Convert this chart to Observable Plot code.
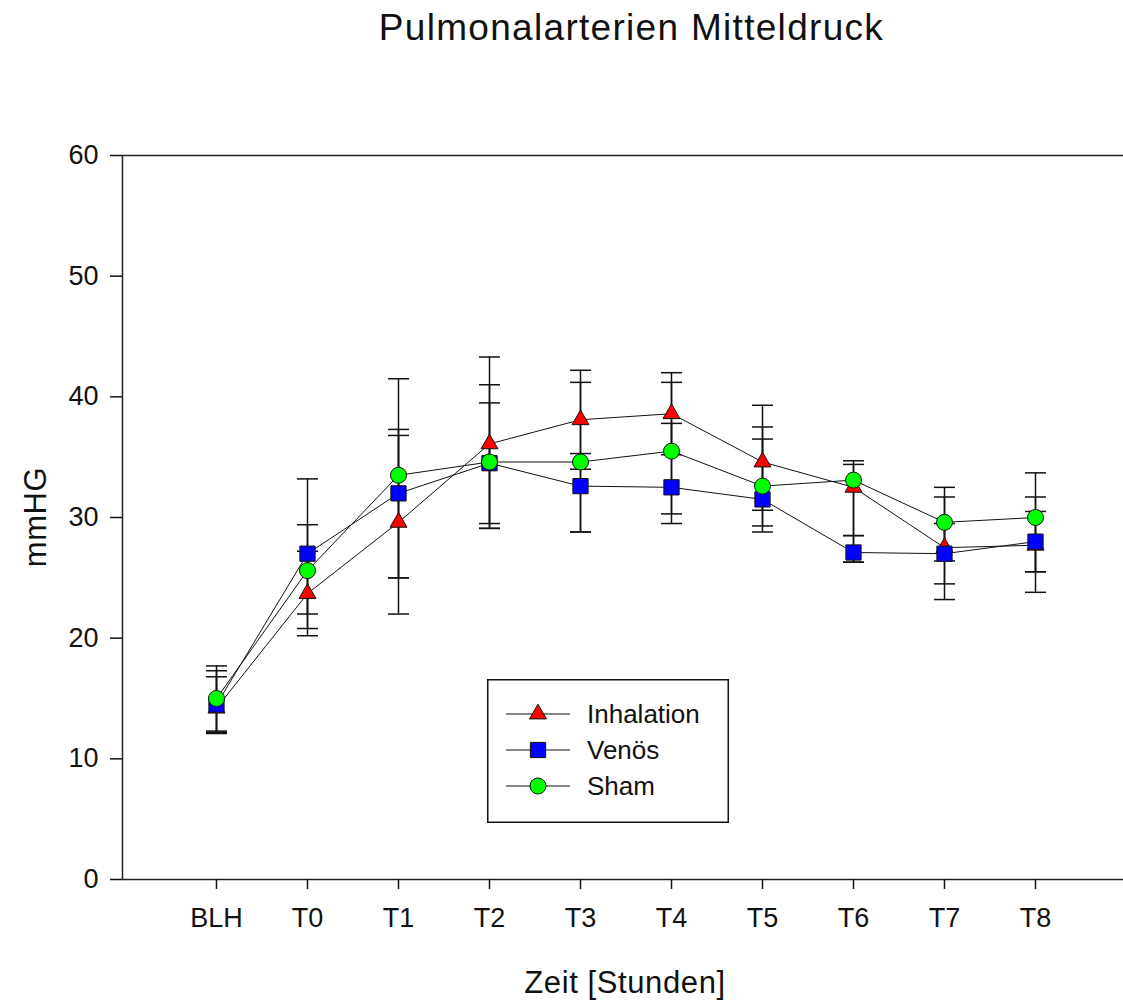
<!DOCTYPE html>
<html>
<head>
<meta charset="utf-8">
<script src="https://cdn.jsdelivr.net/npm/d3@7"></script>
<script src="https://cdn.jsdelivr.net/npm/@observablehq/plot@0.6"></script>
<style>
  html, body { margin: 0; padding: 0; background: #fff; overflow: hidden; }
  #wrap { position: relative; width: 1123px; height: 1001px; font-family: "Liberation Sans", Arial, sans-serif; color: #111; }
  #title { height: 60px; box-sizing: border-box; padding-top: 9px; padding-left: 140px; text-align: center; font-size: 37px; line-height: 37px; letter-spacing: 1.3px; }
  .axlabel { position: absolute; font-size: 31px; line-height: 31px; white-space: nowrap; letter-spacing: 0.6px; }
  #ylab { left: 35px; top: 517px; transform: translate(-50%, -50%) rotate(-90deg); }
  #xlab { left: 625px; top: 982px; transform: translate(-50%, -50%); }
  #legend { position: absolute; left: 487px; top: 679px; }
  #chart svg text { font-size: 27px; }
</style>
</head>
<body>
<div id="wrap">
  <div id="title">Pulmonalarterien Mitteldruck</div>
  <div id="chart"></div>
  <div class="axlabel" id="ylab">mmHG</div>
  <div class="axlabel" id="xlab">Zeit [Stunden]</div>
  <div id="legend"></div>
</div>
<script>
// ---- data ----
const zeitpunkte = ["BLH", "T0", "T1", "T2", "T3", "T4", "T5", "T6", "T7", "T8"];
const serien = ["Inhalation", "Venös", "Sham"];

const inhalationMittel = [14.2, 23.7, 29.6, 36.1, 38.1, 38.6, 34.6, 32.5, 27.5, 27.7];
const inhalationOben   = [16.8, 27.2, 36.8, 43.3, 42.2, 42.0, 39.3, 34.4, 31.7, 31.7];
const inhalationUnten  = [12.1, 20.2, 22.0, 29.1, 34.0, 35.2, 29.3, 26.3, 23.2, 23.8];

const venoesMittel = [14.5, 27.0, 32.0, 34.5, 32.6, 32.5, 31.5, 27.1, 27.0, 28.0];
const venoesOben   = [17.3, 33.2, 37.3, 41.0, 35.3, 37.8, 36.5, 28.5, 29.5, 30.5];
const venoesUnten  = [12.2, 20.8, 25.0, 29.1, 28.8, 30.3, 28.8, 26.3, 24.5, 25.5];

const shamMittel = [15.0, 25.6, 33.5, 34.6, 34.6, 35.5, 32.6, 33.1, 29.6, 30.0];
const shamOben   = [17.7, 29.4, 41.5, 39.5, 41.2, 41.2, 37.5, 34.7, 32.5, 33.7];
const shamUnten  = [12.3, 22.0, 25.0, 29.5, 28.8, 29.5, 30.6, 28.5, 26.4, 25.5];

const yTicks = [0, 10, 20, 30, 40, 50, 60];

// ---- build table ----
const quellen = {
  "Inhalation": [inhalationMittel, inhalationOben, inhalationUnten],
  "Venös": [venoesMittel, venoesOben, venoesUnten],
  "Sham": [shamMittel, shamOben, shamUnten]
};
const rows = [];
for (const s of serien) {
  const [m, hi, lo] = quellen[s];
  zeitpunkte.forEach((z, i) => rows.push({series: s, zeit: z, mean: m[i], hi: hi[i], lo: lo[i]}));
}
const bySeries = s => rows.filter(d => d.series === s);

const stil = {
  "Inhalation": {symbol: "triangle", r: 6.3, fill: "#ff0000"},
  "Venös": {symbol: "square", r: 8.6, fill: "#0000ff"},
  "Sham": {symbol: "circle", r: 8, fill: "#00ff00"}
};

const cap = { draw(ctx) { ctx.moveTo(-10.5, 0); ctx.lineTo(10.5, 0); } };

const chart = Plot.plot({
  width: 1123,
  height: 941,
  marginLeft: 122,
  marginRight: -6,
  marginTop: 95,
  marginBottom: 122,
  x: {type: "point", domain: zeitpunkte, padding: 1},
  y: {domain: [0, 60]},
  style: {fontFamily: "'Liberation Sans', Arial, sans-serif", fontSize: "27px", color: "#111", background: "#fff"},
  marks: [
    Plot.frame({stroke: "#222", strokeWidth: 1.5}),
    Plot.axisY({ticks: yTicks, tickSize: 12, tickPadding: 12, label: null, strokeWidth: 1.5, fontSize: 27}),
    Plot.axisX({tickSize: 10, tickPadding: 18, label: null, strokeWidth: 1.5, fontSize: 27}),
    Plot.line(rows, {x: "zeit", y: "mean", z: "series", stroke: "#111", strokeWidth: 1}),
    Plot.ruleX(rows, {x: "zeit", y1: "lo", y2: "hi", stroke: "#111", strokeWidth: 1.5}),
    Plot.dot(rows, {x: "zeit", y: "hi", symbol: cap, fill: "none", stroke: "#111", strokeWidth: 1.5}),
    Plot.dot(rows, {x: "zeit", y: "lo", symbol: cap, fill: "none", stroke: "#111", strokeWidth: 1.5}),
    ...serien.map(s => Plot.dot(bySeries(s), {
      x: "zeit", y: "mean", symbol: stil[s].symbol, r: stil[s].r,
      fill: stil[s].fill, stroke: "#111", strokeWidth: 1
    }))
  ]
});
document.getElementById("chart").appendChild(chart);

// ---- legend ----
const W = 242, H = 144;
const leg = d3.select("#legend").append("svg").attr("width", W).attr("height", H)
  .style("display", "block").style("font-family", "'Liberation Sans', Arial, sans-serif");
leg.append("rect").attr("x", 0.75).attr("y", 0.75).attr("width", W - 1.5).attr("height", H - 1.5)
  .attr("fill", "#fff").attr("stroke", "#111").attr("stroke-width", 1.5);
serien.forEach((s, i) => {
  const cy = 35 + i * 36;
  const g = leg.append("g").attr("transform", `translate(51,${cy})`);
  g.append("line").attr("x1", -32).attr("x2", 32).attr("stroke", "#111").attr("stroke-width", 1.2);
  const area = Math.PI * stil[s].r * stil[s].r;
  const sym = {triangle: d3.symbolTriangle, square: d3.symbolSquare, circle: d3.symbolCircle}[stil[s].symbol];
  g.append("path").attr("d", d3.symbol(sym, area)()).attr("fill", stil[s].fill).attr("stroke", "#111").attr("stroke-width", 1);
  leg.append("text").attr("x", 100).attr("y", cy).attr("dy", "0.36em").attr("font-size", 26).attr("fill", "#111").text(s);
});
</script>
</body>
</html>
